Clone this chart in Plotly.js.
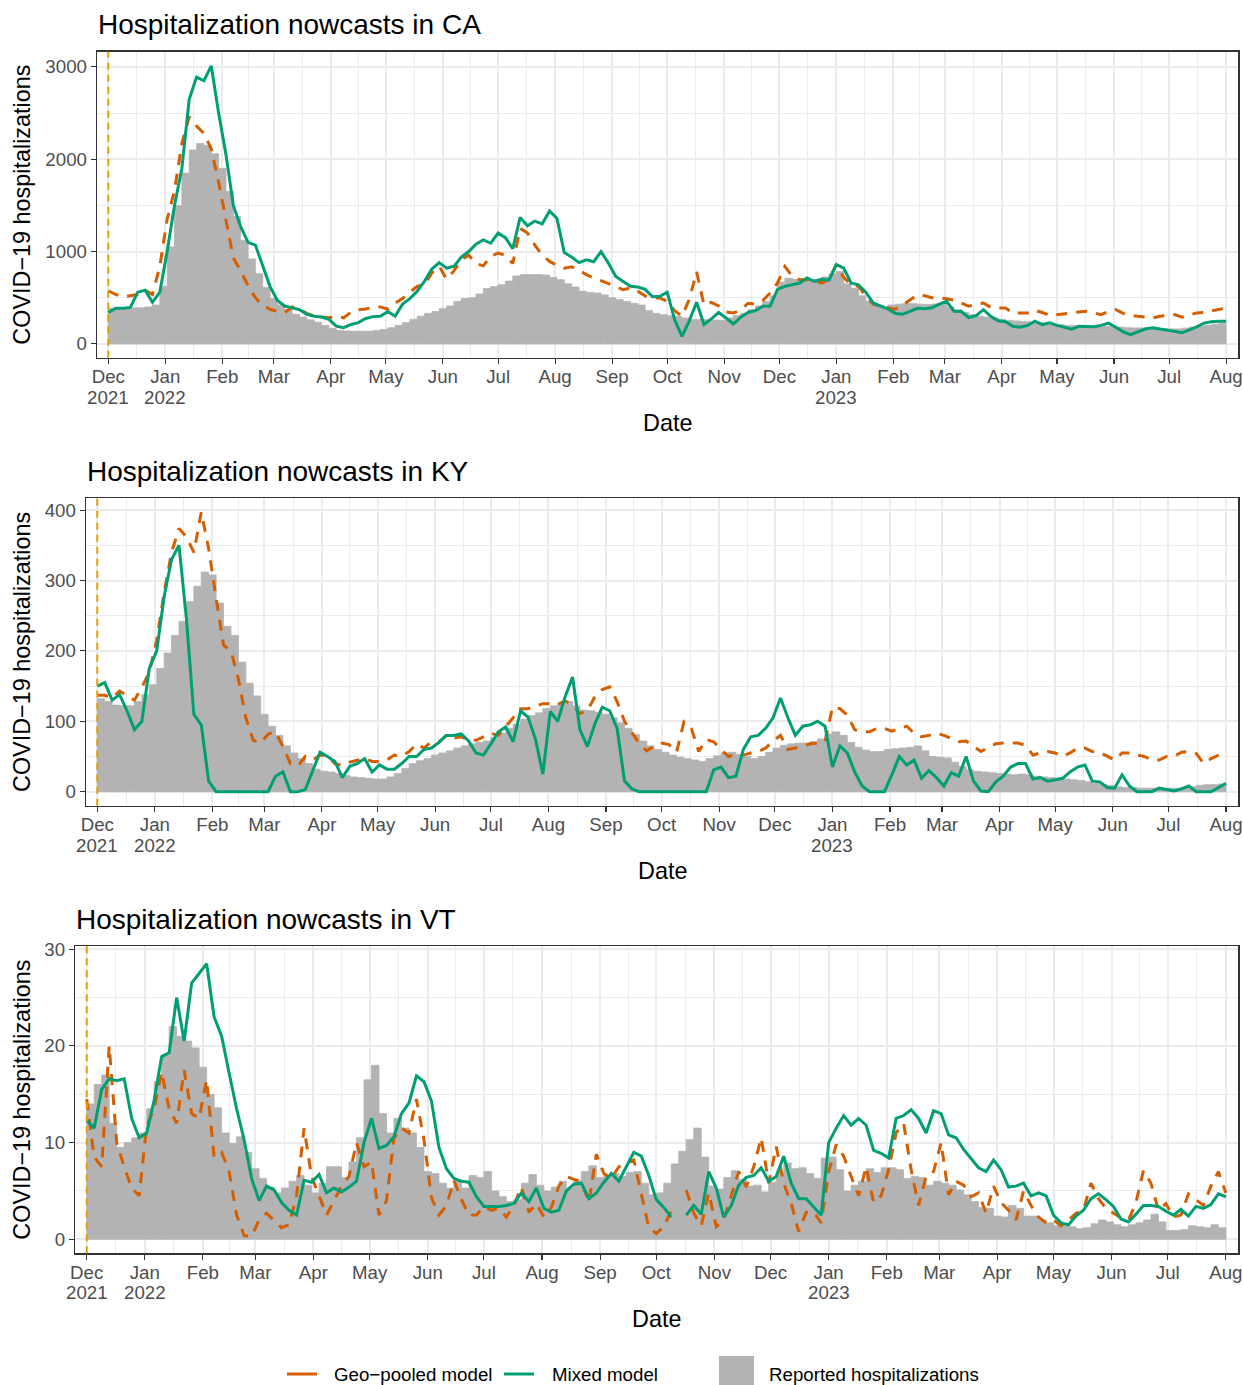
<!DOCTYPE html>
<html>
<head>
<meta charset="utf-8">
<script src="https://cdn.plot.ly/plotly-3.0.1.min.js"></script>
<style>
html,body{margin:0;padding:0;background:#ffffff;}
#chart{width:1243px;height:1385px;}
</style>
</head>
<body>
<div id="chart"></div>
<script>
// ---- data (one value every 4 days starting 2021-12-01) ----
const startDate = '2021-12-01';
const stepDays = 4;

// California
const caReported = [
385,385,385,390,390,400,420,620,1050,1500,
1850,2100,2170,2150,2060,1900,1650,1380,1120,920,
760,610,490,420,370,320,290,260,235,200,
165,145,140,137,137,137,145,155,175,200,
230,265,300,330,350,380,410,460,490,500,
540,600,620,640,680,735,750,750,750,745,
720,695,650,615,570,555,550,530,500,480,
460,440,420,360,330,315,305,300,280,265,
263,262,258,256,280,305,330,370,410,460,
520,670,710,700,695,695,700,725,760,785,
650,600,520,460,420,400,420,430,436,436,
430,425,432,430,400,370,340,315,300,290,
280,265,255,248,242,236,228,218,212,208,
200,196,192,191,191,190,185,182,175,173,
173,173,172,165,162,162,170,182,192,200,
212,222];
const caGeoPooled = [
575,535,510,520,535,580,535,840,1350,1660,
2170,2460,2360,2280,2110,1750,1350,930,790,630,
500,415,375,350,340,400,370,330,300,290,
282,299,282,345,370,378,395,400,375,440,
490,560,623,640,770,839,700,790,910,960,
870,845,950,983,960,870,1250,1200,1070,960,
893,850,820,835,800,750,713,685,650,620,
587,605,570,520,497,497,460,360,300,480,
780,420,450,410,345,335,365,440,430,470,
551,660,839,731,695,695,690,659,695,860,
720,640,623,520,430,407,390,375,420,480,
530,520,500,497,490,470,443,407,430,443,
395,389,389,335,335,335,364,340,306,317,
330,342,345,353,335,317,350,371,330,310,
299,290,281,299,310,317,290,310,335,340,
355,371,389];
const caMixed = [
340,385,385,395,560,580,450,560,1000,1500,
1900,2650,2890,2850,3010,2500,2050,1500,1270,1100,
1070,850,620,470,410,390,370,320,300,290,
265,191,175,210,230,275,295,300,350,300,
430,490,570,680,810,880,820,840,940,1000,
1080,1127,1090,1200,1150,1030,1370,1280,1330,1300,
1440,1360,990,940,880,910,890,1000,875,730,
680,623,616,590,510,515,560,263,80,250,
450,210,270,340,280,215,290,340,360,407,
410,590,623,640,659,713,677,700,690,860,
820,660,640,560,443,410,380,330,320,353,
385,380,390,430,461,353,350,285,305,370,
299,250,240,191,180,200,245,209,227,200,
180,160,190,190,185,200,225,180,130,100,
130,160,173,162,150,135,120,150,185,225,
240,245,245];

// Kentucky
const kyReported = [
132,128,123,122,122,128,138,152,175,197,
222,242,270,292,312,308,268,235,222,184,
154,136,110,93,80,65,55,47,40,32,
29,28,26,23,21,20,19,18,18,21,
26,33,40,44,47,52,55,58,62,65,
68,70,72,77,83,90,96,103,108,112,
118,122,126,128,122,116,115,113,110,105,
98,90,81,72,65,60,56,52,49,47,
45,43,47,51,55,56,53,50,47,50,
56,62,66,68,69,69,71,75,82,85,
80,70,63,59,57,57,60,61,62,63,
65,58,50,49,48,42,36,31,29,28,
27,26,25,24,25,24,22,21,20,19,
18,17,16,14,12,10,9,7,6,6,
5,5,5,5,5,5,6,7,9,10,
10,11];
const kyGeoPooled = [
137,137,133,143,137,130,148,170,215,283,
340,374,362,340,397,345,275,208,200,160,
105,73,69,82,85,64,40,36,50,45,
52,50,40,37,42,45,47,43,43,45,
52,50,57,68,62,71,70,80,76,78,
74,73,78,83,80,92,105,118,118,121,
125,125,124,129,123,111,115,135,145,149,
128,100,84,68,58,65,69,67,56,99,
90,57,74,71,60,50,53,52,55,57,
62,72,80,60,62,65,68,69,71,120,
118,109,88,85,85,90,90,86,90,93,
83,78,80,83,80,75,71,72,64,57,
63,68,69,69,69,66,52,55,57,55,
50,55,62,62,57,56,50,45,55,55,
52,50,45,45,50,50,56,57,54,40,
47,52,57];
const kyMixed = [
150,155,130,138,115,88,100,175,200,277,
330,350,246,110,95,15,0,0,0,0,
0,0,0,0,22,28,0,0,3,30,
56,50,43,20,36,40,47,28,38,32,
32,40,50,50,60,62,70,80,80,82,
72,55,52,68,85,92,71,115,106,75,
25,114,100,135,163,88,64,96,120,115,
90,15,4,0,0,0,0,0,0,0,
0,0,0,31,35,20,22,60,78,80,
90,105,133,105,80,93,95,100,93,35,
65,55,28,8,0,0,0,24,50,38,
45,19,30,20,8,27,22,50,15,1,
0,14,22,35,40,40,18,20,15,17,
19,28,35,38,15,14,6,5,24,8,
0,0,0,5,3,1,4,8,0,0,
0,6,12];

// Vermont
const vtReported = [
14,16,17,12,9.5,10,10.5,11,13.5,16.3,
19,22,21,20.5,19.8,17.8,15,13.6,11,9.9,
10.6,9,7.3,6.3,5.4,4.8,5.3,6,6.6,5.6,
4.8,5.8,7.5,7.5,6.4,8,10.5,16.5,18,13,
11,12.5,11.5,11,9.5,7,6.8,5.8,5.3,6,
5.3,6.6,6.4,7,5,4.4,3.9,4.1,5.8,6.7,
5.6,5,5.4,6,5.3,6.1,7,7.6,6.4,6.6,
6.8,6.5,6.9,7,5.8,4.6,4.8,5.8,7.8,9.1,
10.3,11.5,8.5,5.5,5.2,6.4,7.1,6.2,5.5,5.6,
4.9,5.9,7,7.9,7.3,7.4,6.8,6.3,8.4,8.5,
7.2,5,5.6,6,7.3,6.9,7.4,7.4,7.2,6.3,
6.5,6.4,5.6,6,5.8,5.6,5.1,4.6,3.9,3.3,
3.2,2.4,2.3,3.5,3.2,2.4,2.4,2,1.7,1.4,
1.4,1.3,1.1,1.2,1.6,2,1.8,1.5,1.3,1.5,
1.7,2,2.6,1.8,0.9,0.9,1,1.4,1.3,1.2,
1.5,1.2];
const vtGeoPooled = [
14.5,8.5,7.5,20,10,7.5,5.3,4.5,11.7,13.5,
17.3,13.5,12,17.5,13,12.5,16.5,8.5,9,7,
2.5,0.4,0.3,2,2.7,1.9,1.2,1.5,4.5,11.5,
6.5,4.5,2.5,4,5.5,6.5,10,7.5,8,2.5,
4,10.5,11.5,11,14.5,10.3,4.3,2.5,3.5,6.1,
4.1,2.5,2.5,3.4,3,3.2,2.3,3.5,5.4,2.8,
3.7,2.3,3.3,5.5,6.5,6.2,6,3.8,8.8,6.8,
6.3,7.5,7.9,8.2,4.8,1.2,0.6,1.3,3,null,
5.1,2.7,1.4,4.8,1.3,2,4.5,7,5.4,7.5,
10.5,5.8,9.6,5.8,3.7,0.8,2.8,2.8,1.7,7,
9.8,8.6,6.5,4.5,7.5,3.8,4.5,7.2,11,12,
7.2,3.5,6.5,7,10,4.6,6,5.6,4.4,4.8,
2.7,5.5,3.8,3,2,5,3.5,2.3,1.7,2,
1.4,2,2.7,3,5.8,4.2,3.2,2.7,2.2,2,
3.8,7.1,5.8,3,3.7,2.3,2.5,4.7,4.1,3.5,
5.5,7,4.8];
const vtMixed = [
12.3,11.5,15.5,16.6,16.4,16.6,12.5,10.5,11,14.4,
18.9,19.3,25,20.5,26.5,27.5,28.5,23,21,17.2,
13.5,10.3,6.3,4,5.5,5.1,3.8,3,2.5,6.1,
5.9,6.7,4.8,5.3,4.9,5.4,6,10,12.5,9.4,
9.7,10.6,13,14.1,16.9,16.3,14.3,9.5,7.3,6.3,
6,5.9,4.4,3.4,3.4,3.4,3.5,3.7,4.8,3.9,
5.3,3.2,2.8,3,5,5.7,5.8,4.2,4.8,5.9,
6.8,6,7.5,9,8.6,6.6,4.1,3.3,2.3,null,
2.5,3.5,2.6,7,5.3,2.3,3.5,5.6,6.4,6.6,
7.4,6,6.5,8.6,5.8,4.2,4.2,3.4,2.5,10,
11.5,12.8,11.8,12.5,11.8,9.2,8.9,8.4,12.5,12.8,
13.4,12.5,11,13.3,13,10.8,10.5,9.3,8.3,7.4,
7,8.2,7.2,5.4,5.5,5.8,4.5,4.8,4.5,2.5,
1.7,1.5,2.4,3,4.2,4.7,4.1,3.4,2.1,1.8,
2.6,3.5,3.5,3.4,2.9,2.5,3.1,2.4,3.4,3.2,
3.6,4.7,4.4];

// axis ticks
const monthTicks = ['2021-12-01','2022-01-01','2022-02-01','2022-03-01','2022-04-01','2022-05-01','2022-06-01',
  '2022-07-01','2022-08-01','2022-09-01','2022-10-01','2022-11-01','2022-12-01','2023-01-01','2023-02-01',
  '2023-03-01','2023-04-01','2023-05-01','2023-06-01','2023-07-01','2023-08-01'];
const monthLabels = ['Dec','Jan','Feb','Mar','Apr','May','Jun','Jul','Aug','Sep','Oct','Nov','Dec',
  'Jan','Feb','Mar','Apr','May','Jun','Jul','Aug'];
// second line of the tick labels (year), placed under its month tick
const yearLabels = [['2021-12-01','2021'],['2022-01-01','2022'],['2023-01-01','2023']];
const caYTicks = [0,1000,2000,3000];
const caYMinor = [500,1500,2500];
const kyYTicks = [0,100,200,300,400];
const kyYMinor = [50,150,250,350];
const vtYTicks = [0,10,20,30];
const vtYMinor = [5,15,25];
const nowcastStart = '2021-12-01';

// ---- build chart ----
const FONT = 'Liberation Sans, Arial, Helvetica, sans-serif';
const W = 1243, H = 1385;
const DAY = 86400000;

function seriesDates(n){
  const out = [];
  const t0 = Date.parse(startDate + 'T00:00:00Z');
  for (let k = 0; k < n; k++) out.push(new Date(t0 + k*stepDays*DAY).toISOString().slice(0,10));
  return out;
}
const minorX = monthTicks.slice(1).map((d,i) => {
  const a = Date.parse(monthTicks[i]+'T00:00:00Z'), b = Date.parse(d+'T00:00:00Z');
  return new Date((a+b)/2).toISOString().replace('T',' ').slice(0,19);
});

const xRange = ['2021-11-24 20:00', '2023-08-07 15:00'];
const px = v => v / W;
const py = v => 1 - v / H;

const panels = [
  {name:'CA', rep:caReported, geo:caGeoPooled, mix:caMixed, left:96.98, top:51.7, bottom:357.7,
   yr:[-150,3165], yt:caYTicks, ym:caYMinor, titleY:24, yearY:397, dateY:423},
  {name:'KY', rep:kyReported, geo:kyGeoPooled, mix:kyMixed, left:85.86, top:498.3, bottom:805.7,
   yr:[-19.9,416.8], yt:kyYTicks, ym:kyYMinor, titleY:472, yearY:845, dateY:871},
  {name:'VT', rep:vtReported, geo:vtGeoPooled, mix:vtMixed, left:75.16, top:946, bottom:1253.3,
   yr:[-1.45,30.34], yt:vtYTicks, ym:vtYMinor, titleY:919, yearY:1292, dateY:1319}
];
const RIGHT = 1238.3;

const traces = [];
const layout = {
  width: W, height: H,
  margin: {l:0, r:0, t:0, b:0, pad:0},
  paper_bgcolor: '#ffffff', plot_bgcolor: '#ffffff',
  showlegend: false,
  font: {family: FONT, color: '#000000'},
  shapes: [], annotations: []
};

panels.forEach((p, i) => {
  const s = i === 0 ? '' : String(i+1);
  const xa = 'x' + s, ya = 'y' + s;
  traces.push({
    type:'bar', x: seriesDates(p.rep.length), y: p.rep, width: stepDays*DAY, offset: 0,
    marker:{color:'#B3B3B3', line:{width:0.8, color:'#B3B3B3'}}, xaxis: xa, yaxis: ya, hoverinfo:'skip',
    name:'Reported hospitalizations'
  });
  traces.push({
    type:'scatter', mode:'lines', x: seriesDates(p.geo.length), y: p.geo,
    line:{color:'#D55E00', width:3, dash:'11px,9px'}, xaxis: xa, yaxis: ya,
    name:'Geo−pooled model', connectgaps:false
  });
  traces.push({
    type:'scatter', mode:'lines', x: seriesDates(p.mix.length), y: p.mix,
    line:{color:'#009E73', width:3}, xaxis: xa, yaxis: ya,
    name:'Mixed model', connectgaps:false
  });

  layout['xaxis' + s] = {
    domain:[px(p.left), px(RIGHT)], anchor: ya, type:'date', range: xRange,
    tickmode:'array', tickvals: monthTicks, ticktext: monthLabels, tickangle: 0,
    ticks:'outside', ticklen:5, tickwidth:1.1, tickcolor:'#333333', ticklabelstandoff:-3,
    tickfont:{family:FONT, size:18.7, color:'#4D4D4D'},
    showgrid:true, gridcolor:'#EBEBEB', gridwidth:2,
    minor:{tickmode:'array', tickvals: minorX, showgrid:true, gridcolor:'#EBEBEB', gridwidth:1, ticks:''},
    showline:true, mirror:true, linecolor:'#333333', linewidth:1.3, zeroline:false, fixedrange:true
  };
  layout['yaxis' + s] = {
    domain:[py(p.bottom), py(p.top)], anchor: xa, range: p.yr,
    tickmode:'array', tickvals: p.yt, ticktext: p.yt.map(String),
    ticks:'outside', ticklen:5, tickwidth:1.1, tickcolor:'#333333',
    tickfont:{family:FONT, size:18.7, color:'#4D4D4D'},
    showgrid:true, gridcolor:'#EBEBEB', gridwidth:2,
    minor:{tickmode:'array', tickvals: p.ym, showgrid:true, gridcolor:'#EBEBEB', gridwidth:1, ticks:''},
    showline:true, mirror:true, linecolor:'#333333', linewidth:1.3, zeroline:false, fixedrange:true
  };

  layout.shapes.push({
    type:'line', xref: xa, yref: ya + ' domain', x0: nowcastStart, x1: nowcastStart, y0:0, y1:1,
    line:{color:'#E69F00', width:2, dash:'7px,5px'}, layer:'above'
  });

  yearLabels.forEach(([d, t]) => {
    layout.annotations.push({
      text: t, xref: xa, yref:'paper', x: d, y: py(p.yearY), xanchor:'center', yanchor:'middle',
      showarrow:false, font:{family:FONT, size:18.7, color:'#4D4D4D'}
    });
  });

  layout.annotations.push({
    text:'Hospitalization nowcasts in ' + p.name, xref:'paper', yref:'paper',
    x: px(p.left - 1), y: py(p.titleY), xanchor:'left', yanchor:'middle', showarrow:false,
    font:{family:FONT, size:28, color:'#000000'}
  });
  layout.annotations.push({
    text:'COVID−19 hospitalizations', xref:'paper', yref:'paper', textangle:-90,
    x: px(22), y: py((p.top + p.bottom)/2), xanchor:'center', yanchor:'middle', showarrow:false,
    font:{family:FONT, size:23.4, color:'#000000'}
  });
  layout.annotations.push({
    text:'Date', xref:'paper', yref:'paper',
    x: px((p.left + RIGHT)/2), y: py(p.dateY), xanchor:'center', yanchor:'middle', showarrow:false,
    font:{family:FONT, size:23.4, color:'#000000'}
  });
});

// legend (drawn manually to match the two ggplot legends)
const LY = 1374;
layout.shapes.push({type:'line', xref:'paper', yref:'paper', x0:px(287), x1:px(317), y0:py(LY), y1:py(LY),
  line:{color:'#D55E00', width:3}});
layout.shapes.push({type:'line', xref:'paper', yref:'paper', x0:px(504), x1:px(534), y0:py(LY), y1:py(LY),
  line:{color:'#009E73', width:3}});
layout.shapes.push({type:'rect', xref:'paper', yref:'paper', x0:px(719), x1:px(754), y0:py(1385), y1:py(1356),
  fillcolor:'#B3B3B3', line:{width:0}});
[['Geo−pooled model',332],['Mixed model',550],['Reported hospitalizations',767]].forEach(([t,x]) => {
  layout.annotations.push({text:t, xref:'paper', yref:'paper', x:px(x), y:py(LY), xanchor:'left', yanchor:'middle',
    showarrow:false, font:{family:FONT, size:18.7, color:'#000000'}});
});

Plotly.newPlot('chart', traces, layout, {staticPlot:true, displayModeBar:false});
</script>
</body>
</html>
